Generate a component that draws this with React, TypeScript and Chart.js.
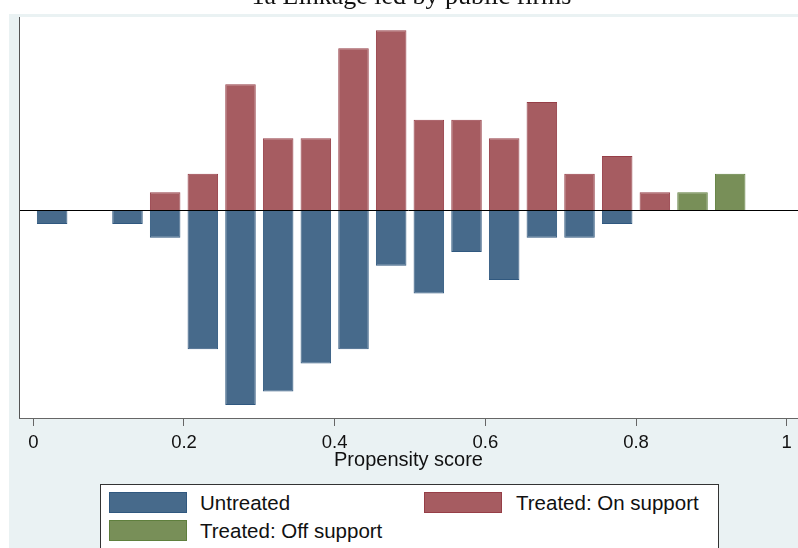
import React, { useEffect, useRef } from "react";
import { Chart, registerables } from "chart.js";

Chart.register(...registerables);

const titleText = "1a Linkage led by public firms";
const xAxisTitle = "Propensity score";
const xTickValues = [0, 0.2, 0.4, 0.6, 0.8, 1];
const xTickLabels = ["0", "0.2", "0.4", "0.6", "0.8", "1"];

const untreatedX = [0.025, 0.125, 0.175, 0.225, 0.275, 0.325, 0.375, 0.425, 0.475, 0.525, 0.575, 0.625, 0.675, 0.725, 0.775];
const untreatedY = [-0.235, -0.235, -0.47, -2.35, -3.29, -3.06, -2.59, -2.35, -0.94, -1.41, -0.71, -1.18, -0.47, -0.47, -0.235];

const onSupportX = [0.175, 0.225, 0.275, 0.325, 0.375, 0.425, 0.475, 0.525, 0.575, 0.625, 0.675, 0.725, 0.775, 0.825];
const onSupportY = [0.30, 0.61, 2.12, 1.21, 1.21, 2.73, 3.03, 1.52, 1.52, 1.21, 1.82, 0.61, 0.91, 0.30];

const offSupportX = [0.875, 0.925];
const offSupportY = [0.30, 0.61];

const seriesNames = ["Untreated", "Treated: On support", "Treated: Off support"];
const seriesColors = ["#476A8B", "#A65C61", "#788F58"];
const seriesBorders = ["#30587F", "#963E47", "#5F7F3D"];

const pairs = (xs: number[], ys: number[]) => xs.map((x, i) => ({ x, y: ys[i] }));

const bgPlugin = {
  id: "stataBg",
  beforeDraw(chart: any) {
    const { ctx, chartArea, width, height } = chart;
    ctx.save();
    ctx.fillStyle = "#ffffff";
    ctx.fillRect(0, 0, width, height);
    ctx.fillStyle = "#EAF2F3";
    ctx.fillRect(9, 14, width - 9, height - 14);
    ctx.fillStyle = "#ffffff";
    ctx.fillRect(chartArea.left, chartArea.top, chartArea.right - chartArea.left, chartArea.bottom - chartArea.top);
    ctx.restore();
  },
  afterDatasetsDraw(chart: any) {
    const { ctx, chartArea } = chart;
    const y0 = Math.round(chart.scales.y.getPixelForValue(0)) + 0.5;
    ctx.save();
    ctx.strokeStyle = "#000000";
    ctx.lineWidth = 1;
    ctx.beginPath();
    ctx.moveTo(chartArea.left, y0);
    ctx.lineTo(chartArea.right, y0);
    ctx.stroke();
    ctx.strokeStyle = "#555555";
    ctx.beginPath();
    ctx.moveTo(chartArea.left + 0.5, chartArea.top);
    ctx.lineTo(chartArea.left + 0.5, chartArea.bottom);
    ctx.stroke();
    ctx.restore();
  },
};

export default function App() {
  const ref = useRef<HTMLCanvasElement | null>(null);

  useEffect(() => {
    if (!ref.current) return;
    const mk = (i: number, xs: number[], ys: number[]) => ({
      label: seriesNames[i],
      data: pairs(xs, ys),
      backgroundColor: seriesColors[i],
      borderColor: seriesBorders[i],
      borderWidth: 1,
      grouped: false,
      barPercentage: 0.81,
      categoryPercentage: 1,
    });
    const chart = new Chart(ref.current, {
      type: "bar",
      data: {
        datasets: [
          mk(0, untreatedX, untreatedY),
          mk(1, onSupportX, onSupportY),
          mk(2, offSupportX, offSupportY),
        ] as any,
      },
      options: {
        animation: false,
        responsive: false,
        devicePixelRatio: 1,
        layout: { padding: { left: 19, top: 17, right: 0, bottom: 0 } },
        plugins: { legend: { display: false }, tooltip: { enabled: false }, title: { display: false } },
        scales: {
          x: {
            type: "linear",
            min: -0.019,
            max: 1.015,
            offset: false,
            afterBuildTicks: (scale: any) => {
              scale.ticks = xTickValues.map((v) => ({ value: v }));
            },
            afterFit: (scale: any) => {
              scale.height = 130;
            },
            grid: { display: true, drawOnChartArea: false, drawTicks: true, tickLength: 8, color: "#666666", offset: false },
            border: { display: true, color: "#666666", width: 1 },
            ticks: {
              autoSkip: false,
              maxRotation: 0,
              padding: 6,
              color: "#111111",
              font: { family: "'Liberation Sans', Arial, sans-serif", size: 18.5 },
              callback: (v: any) => {
                const i = xTickValues.indexOf(Number(v));
                return i >= 0 ? xTickLabels[i] : "";
              },
            },
            title: {
              display: true,
              text: xAxisTitle,
              color: "#111111",
              font: { family: "'Liberation Sans', Arial, sans-serif", size: 20 },
              padding: { top: 0, bottom: 76 },
            },
          },
          y: {
            display: false,
            min: -3.508,
            max: 3.255,
          },
        },
      } as any,
      plugins: [bgPlugin],
    });
    return () => chart.destroy();
  }, []);

  const textStyle: React.CSSProperties = {
    position: "absolute",
    fontFamily: "'Liberation Sans', Arial, sans-serif",
    fontSize: "20.5px",
    lineHeight: "20.5px",
    color: "#111",
    whiteSpace: "nowrap",
  };
  const sw = (left: number, top: number, i: number): React.CSSProperties => ({
    position: "absolute",
    left,
    top,
    width: 78,
    height: 21,
    background: seriesColors[i],
    boxSizing: "border-box",
    border: `1px solid ${seriesBorders[i]}`,
  });

  return (
    <div style={{ position: "fixed", left: 0, top: 0, width: 798, height: 548, overflow: "hidden", background: "#fff" }}>
      <canvas ref={ref} width={798} height={548} style={{ position: "absolute", left: 0, top: 0 }} />
      <div
        style={{
          position: "absolute",
          left: 411.5,
          top: -17,
          transform: "translateX(-50%)",
          fontFamily: "'Liberation Serif', 'Times New Roman', serif",
          fontSize: "26px",
          lineHeight: "26px",
          color: "#111",
          whiteSpace: "nowrap",
        }}
      >
        {titleText}
      </div>
      <div
        style={{
          position: "absolute",
          left: 100,
          top: 484,
          width: 619,
          height: 80,
          background: "#fff",
          border: "1px solid #333",
          boxSizing: "border-box",
        }}
      />
      <div style={sw(109, 492, 0)} />
      <div style={{ ...textStyle, left: 200, top: 493 }}>{seriesNames[0]}</div>
      <div style={sw(424, 492, 1)} />
      <div style={{ ...textStyle, left: 516, top: 493 }}>{seriesNames[1]}</div>
      <div style={sw(109, 520, 2)} />
      <div style={{ ...textStyle, left: 200, top: 521 }}>{seriesNames[2]}</div>
    </div>
  );
}
